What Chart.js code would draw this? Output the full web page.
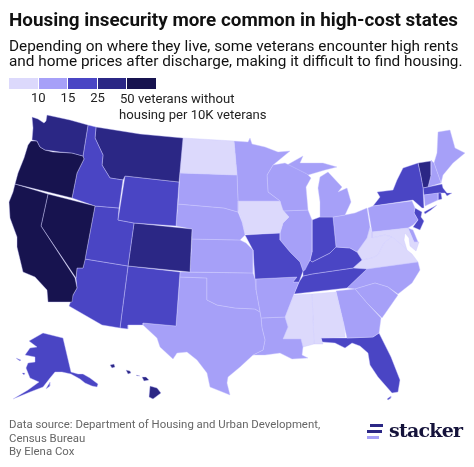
<!DOCTYPE html>
<html lang="en">
<head>
<meta charset="UTF-8">
<title>Housing insecurity more common in high-cost states</title>
<script src="https://cdn.jsdelivr.net/npm/chart.js"></script>
<style>
html, body { margin: 0; padding: 0; background: #fff; }
#page { position: relative; width: 474px; height: 467px; overflow: hidden; font-family: Roboto, sans-serif; color: #111; }
#map { position: absolute; left: 0; top: 0; }
.t { position: absolute; white-space: nowrap; }
#title { left: 9px; top: 8px; font-size: 18.85px; font-weight: 700; line-height: 24px; }
.sub { left: 9px; font-size: 15.35px; line-height: 18px; }
.lab { font-size: 13.1px; line-height: 15px; color: #222; }
.foot { left: 9px; font-size: 11.4px; line-height: 14px; color: #666; }
.sw { position: absolute; top: 78px; height: 11px; }
.bar { position: absolute; height: 3px; }
#brand { left: 389px; top: 415px; font-family: "DejaVu Serif", serif; font-weight: 700; font-size: 19px; letter-spacing: -0.75px; line-height: 30px; color: #14123a; }
</style>
</head>
<body>
<div id="page">
  <canvas id="map" width="474" height="467"></canvas>
  <div class="t" id="title">Housing insecurity more common in high-cost states</div>
  <div class="t sub" style="top:37px">Depending on where they live, some veterans encounter high rents</div>
  <div class="t sub" style="top:52px">and home prices after discharge, making it difficult to find housing.</div>
  <div id="legend"></div>
  <div class="t lab" style="left:120px;top:91px">50 veterans without</div>
  <div class="t lab" style="left:119px;top:107px">housing per 10K veterans</div>
  <div class="t foot" style="top:417px">Data source: Department of Housing and Urban Development,</div>
  <div class="t foot" style="top:431px">Census Bureau</div>
  <div class="t foot" style="top:444px">By Elena Cox</div>
  <div class="bar" style="left:370px;width:13px;top:424px;background:#2b2785"></div>
  <div class="bar" style="left:367px;width:15px;top:430px;background:#2b2785"></div>
  <div class="bar" style="left:367px;width:12px;top:436px;background:#a6a0f8"></div>
  <div class="t" id="brand">stacker</div>
</div>

<script>
// legend bins
const binTicks = [10, 15, 25];
const binColors = ["#dcd9fc", "#a6a0f8", "#4a45c4", "#2b2785", "#17134f"];
const binLimits = [10, 15, 25, 50];

// veterans without housing per 10K, estimated from the colour of each state
const stateNames = ["WA","OR","CA","NV","ID","MT","WY","UT","AZ","CO","NM","ND","SD","NE","KS","OK","TX",
  "MN","IA","MO","AR","LA","WI","IL","MI","IN","OH","KY","TN","MS","AL","GA","FL","SC","NC","VA","WV","MD",
  "DE","DC","PA","NJ","NY","CT","RI","MA","VT","NH","ME","AK","HI"];
const stateRates = [30,55,60,58,20,28,22,20,20,30,20,8,12,12,12,12,13,
  12,9,18,13,13,12,13,12,18,13,17,18,9,9,13,20,12,12,9,7,9,
  12,60,13,17,20,13,16,17,35,13,12,20,35];

// outlines in map units
const WA = [[[32,117],[38,119],[44,123],[46,121],[47,115],[70,120],[88,125],[83,156],[72,153],[60,152],[53,151],[45,150],[40,147],[37,141],[32,140],[33,128]]];
const OR = [[[31,141],[37,141],[40,147],[45,150],[53,152],[72,153],[83,156],[84,159],[77,173],[72,198],[15,184],[18,173],[24,158],[28,145]]];
const CA = [[[15,184],[48,194],[41,226],[75,278],[77,288],[73,295],[72,302],[48,302],[47,290],[35,277],[23,272],[17,247],[17,237],[10,218],[9,202],[13,192]]];
const NV = [[[48,194],[95,206],[86,254],[85,260],[83,268],[77,268],[76,278],[41,226]]];
const ID = [[[88,125],[96,127],[95,138],[103,155],[102,165],[110,178],[123,180],[119,208],[95,206],[72,198],[77,173],[84,159],[83,156]]];
const MT = [[[96,127],[140,134],[183,138],[179,182],[125,176],[123,180],[110,178],[102,165],[103,155],[95,138]]];
const WY = [[[125,176],[179,182],[176,226],[134,223],[118,220]]];
const UT = [[[95,206],[119,208],[118,220],[134,223],[128,266],[85,259]]];
const AZ = [[[85,259],[128,266],[120,328],[102,325],[69,306],[73,295],[77,288],[76,278],[77,268],[83,268]]];
const CO = [[[134,223],[192,229],[190,272],[128,266]]];
const NM = [[[128,266],[180,272],[176,326],[143,323],[143,325],[128,325],[128,329],[120,328]]];
const ND = [[[183,138],[234,141],[237,175],[180,173]]];
const SD = [[[180,173],[237,175],[238,201],[238,212],[224,208],[178,204]]];
const NE = [[[178,204],[224,208],[238,212],[242,222],[245,235],[240,240],[192,239],[192,229],[176,226]]];
const KS = [[[192,239],[240,240],[246,243],[253,250],[253,273],[190,272]]];
const OK = [[[180,272],[253,273],[255,279],[256,290],[260,312],[255,309],[235,308],[217,305],[207,300],[207,278],[180,277]]];
const TX = [[[180,277],[207,278],[207,300],[217,305],[235,308],[255,309],[260,312],[261,318],[262,328],[265,340],[263,350],[253,355],[240,367],[228,377],[227,383],[230,395],[210,387],[207,373],[197,360],[187,352],[177,353],[173,359],[160,347],[157,338],[143,325],[143,323],[176,326]]];
const MN = [[[234,141],[248,142],[250,138],[252,144],[265,147],[278,152],[290,151],[273,165],[267,175],[268,192],[280,201],[238,201],[237,175]]];
const IA = [[[238,201],[280,201],[283,210],[289,217],[283,223],[280,233],[245,234],[242,221],[238,210]]];
const MO = [[[245,235],[280,233],[280,240],[290,252],[300,262],[303,271],[299,282],[293,282],[297,277],[255,279],[253,250]]];
const AR = [[[255,279],[297,277],[293,282],[299,282],[294,294],[285,317],[261,318],[260,312],[256,290]]];
const LA = [[[261,318],[285,317],[288,327],[283,339],[301,339],[303,347],[302,355],[308,358],[292,359],[280,353],[265,355],[253,355],[263,350],[265,340],[262,328]]];
const WI = [[[273,165],[285,163],[307,174],[311,178],[306,187],[308,210],[282,211],[280,201],[268,192],[267,175]]];
const IL = [[[282,211],[308,210],[312,220],[312,252],[310,260],[305,270],[303,271],[300,262],[290,252],[280,240],[280,233],[283,223],[289,217]]];
const MI = [[[287,165],[303,156],[300,163],[323,163],[337,167],[325,170],[308,175]],
  [[328,172],[342,187],[338,192],[347,188],[351,202],[345,215],[333,217],[320,217],[320,202],[318,188],[320,177]]];
const IN = [[[312,220],[320,217],[333,217],[336,247],[330,253],[312,262],[310,260],[312,252]]];
const OH = [[[333,217],[345,215],[355,213],[367,208],[370,227],[367,238],[357,252],[350,248],[336,247]]];
const KY = [[[336,247],[350,248],[357,252],[362,260],[353,268],[312,274],[303,276],[303,271],[310,260],[312,262],[330,253]]];
const TN = [[[303,276],[312,274],[353,268],[367,269],[347,288],[294,294],[299,282]]];
const MS = [[[294,295],[312,294],[314,344],[303,347],[301,339],[283,339],[288,327],[285,317]]];
const AL = [[[312,294],[336,292],[344,325],[345,337],[321,338],[323,344],[314,344]]];
const GA = [[[336,291],[355,289],[367,303],[381,318],[379,333],[373,337],[347,338],[344,325]]];
const FL = [[[321,338],[347,338],[373,337],[379,333],[391,357],[400,380],[398,392],[392,393],[378,377],[370,365],[368,353],[360,346],[352,343],[345,348],[335,343],[322,342]],
  [[387,399],[391,396],[391,398],[388,400]]];
const SC = [[[355,289],[375,283],[388,287],[398,295],[382,318],[367,303]]];
const NC = [[[367,269],[418,262],[420,270],[412,283],[398,294],[388,287],[375,283],[355,289],[347,288]]];
const VA = [[[353,268],[362,260],[372,258],[378,255],[384,243],[392,237],[398,242],[407,250],[412,254],[418,262],[367,269]]];
const WV = [[[370,227],[372,232],[372,238],[385,235],[392,237],[384,243],[378,255],[372,258],[362,260],[357,252],[367,238]]];
const MD = [[[372,232],[408,228],[414,242],[419,242],[416,251],[410,246],[409,238],[405,233],[404,240],[407,250],[398,242],[392,237],[385,235],[372,238]]];
const DE = [[[408,228],[413,230],[418,242],[414,242]]];
const DC = [[[401,236],[403,236],[403,238],[401,238]]];
const PA = [[[368,208],[373,206],[412,201],[415,208],[414,213],[418,220],[413,225],[408,228],[372,232]]];
const NJ = [[[415,208],[422,212],[421,217],[424,221],[420,230],[413,227],[418,220],[414,213]]];
const NY = [[[418,163],[421,177],[423,188],[424,208],[422,208],[413,200],[373,206],[380,197],[377,192],[393,190],[397,180],[403,168]],
  [[424,212],[437,205],[431,210],[425,214]]];
const CT = [[[424,195],[438,193],[438,200],[425,206]]];
const RI = [[[438,193],[441,193],[442,199],[438,200]]];
const MA = [[[423,188],[428,187],[442,184],[443,188],[447,193],[452,193],[447,196],[445,193],[441,193],[424,195]]];
const VT = [[[418,163],[431,161],[431,175],[428,187],[423,188],[421,177]]];
const NH = [[[431,160],[434,163],[441,183],[428,187],[431,175]]];
const ME = [[[437,153],[438,132],[450,130],[455,148],[465,153],[453,163],[443,175],[441,183],[434,163]]];
const AK = [[[43,333],[63,338],[71,372],[78,374],[83,374],[90,378],[98,384],[97,387],[92,386],[85,383],[80,379],[71,374],[62,372],[55,372],[50,378],[43,387],[30,392],[13,399],[28,390],[39,382],[30,378],[26,368],[28,363],[35,362],[35,357],[25,355],[30,348],[37,347],[29,341]],
  [[47,387],[50,382],[50,386],[46,389]], [[16,358],[21,360],[20,361],[17,359]], [[22,373],[25,373],[24,375]]];
const HI = [[[110,365],[114,364],[115,367],[112,368]], [[126,370],[130,371],[131,373],[128,374]], [[136,375],[140,376],[137,376]],
  [[142,377],[146,377],[149,380],[144,381]], [[150,386],[157,388],[161,393],[153,399],[149,397]]];

const stateShapes = [WA,OR,CA,NV,ID,MT,WY,UT,AZ,CO,NM,ND,SD,NE,KS,OK,TX,MN,IA,MO,AR,LA,WI,IL,MI,IN,OH,KY,TN,MS,AL,GA,FL,SC,NC,VA,WV,MD,DE,DC,PA,NJ,NY,CT,RI,MA,VT,NH,ME,AK,HI];

function rateColor(v) {
  let i = binLimits.findIndex(l => v < l);
  return binColors[i < 0 ? binLimits.length : i];
}

// one closed line per ring
const datasets = [];
stateShapes.forEach((rings, i) => {
  rings.forEach(ring => {
    const pts = ring.concat([ring[0]]).map(p => ({ x: p[0], y: p[1] }));
    datasets.push({
      label: stateNames[i],
      data: pts,
      showLine: true,
      fill: "shape",
      tension: 0,
      pointRadius: 0,
      borderWidth: 0.5,
      borderColor: "rgba(205,202,255,0.8)",
      backgroundColor: rateColor(stateRates[i])
    });
  });
});

new Chart(document.getElementById("map"), {
  type: "scatter",
  data: { datasets: datasets },
  options: {
    responsive: false,
    animation: false,
    layout: { padding: 0 },
    plugins: { legend: { display: false }, tooltip: { enabled: false } },
    scales: {
      x: { type: "linear", min: 0, max: 474, display: false },
      y: { type: "linear", min: 0, max: 467, reverse: true, display: false }
    }
  }
});

// legend strip
const legend = document.getElementById("legend");
binColors.forEach((c, i) => {
  const d = document.createElement("div");
  d.className = "sw";
  d.style.left = (9 + i * 29.6) + "px";
  d.style.width = "28.6px";
  d.style.background = c;
  legend.appendChild(d);
});
binTicks.forEach((v, i) => {
  const d = document.createElement("div");
  d.className = "t lab";
  d.style.left = (31 + i * 29.6) + "px";
  d.style.top = "89.5px";
  d.textContent = v;
  legend.appendChild(d);
});
</script>
</body>
</html>
